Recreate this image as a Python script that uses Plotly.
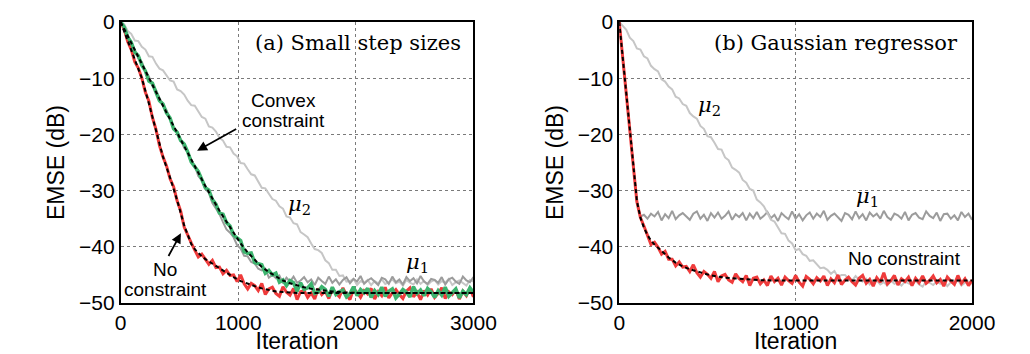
import plotly.graph_objects as go

# ---------------- data ----------------
iter_left = list(range(0, 3001, 30))
iter_right = list(range(0, 2001, 20))

red_left = [0, -1.3, -3.5, -4.9, -7.1, -8.2, -10.0, -12.5, -14.1, -17.0,
            -19.1, -22.0, -24.0, -25.6, -27.9, -29.3, -31.8, -33.6, -36.5, -38.0,
            -39.3, -40.6, -41.8, -41.3, -42.1, -43.1, -42.4, -43.7, -43.6, -44.8,
            -44.2, -45.1, -45.0, -46.2, -45.0, -46.6, -47.5, -46.5, -46.9, -47.8,
            -46.5, -48.5, -47.5, -47.2, -48.3, -48.8, -47.1, -48.1, -48.6, -47.4,
            -49.4, -48.0, -47.8, -49.0, -48.2, -49.3, -47.4, -48.5, -47.9, -49.2,
            -47.6, -48.3, -48.9, -47.3, -48.6, -49.4, -47.5, -48.1, -49.0, -47.8,
            -48.4, -47.4, -49.3, -48.0, -48.7, -47.2, -49.1, -48.2, -47.6, -48.5,
            -49.2, -47.9, -47.3, -48.9, -48.1, -49.4, -47.8, -48.6, -47.5, -49.0,
            -48.3, -47.3, -49.2, -48.0, -48.5, -47.6, -49.3, -47.9, -48.7, -47.4,
            -48.9]

green_left = [0, -0.9, -2.7, -3.6, -5.4, -6.0, -7.7, -8.7, -10.5, -10.9,
              -12.5, -14.0, -14.6, -16.2, -17.1, -19.0, -19.6, -21.1, -21.7, -23.1,
              -24.9, -25.8, -26.6, -28.0, -29.5, -29.9, -31.6, -32.4, -34.0, -34.2,
              -35.7, -36.3, -37.9, -38.4, -38.9, -40.9, -41.2, -41.1, -42.8, -43.0,
              -43.2, -44.7, -44.2, -45.0, -44.7, -46.3, -45.9, -46.9, -46.0, -46.4,
              -47.9, -46.4, -47.6, -47.3, -46.6, -48.3, -48.0, -47.1, -47.6, -48.8,
              -47.2, -48.5, -48.0, -47.7, -48.9, -48.3, -47.1, -48.7, -47.6, -48.2,
              -47.4, -49.0, -47.8, -48.5, -47.2, -48.8, -47.9, -47.5, -49.1, -48.4,
              -47.6, -48.1, -48.9, -47.1, -48.3, -47.7, -48.7, -47.4, -48.0, -49.0,
              -47.8, -48.6, -47.2, -48.8, -48.2, -47.5, -49.1, -47.9, -48.5, -47.3,
              -48.1]

mu1_left = [0, -1.1, -2.3, -3.9, -4.9, -6.5, -7.1, -8.7, -9.7, -11.4,
            -12.1, -13.5, -14.9, -15.7, -17.3, -18.8, -19.4, -20.8, -22.4, -23.2,
            -24.6, -25.6, -27.4, -28.2, -29.7, -30.4, -32.2, -33.2, -34.2, -35.6,
            -36.9, -37.5, -38.3, -39.7, -40.3, -41.6, -41.7, -42.7, -43.0, -43.9,
            -44.2, -43.9, -45.5, -45.0, -45.6, -45.1, -46.5, -45.5, -46.2, -45.3,
            -46.4, -46.0, -45.4, -46.3, -45.8, -46.8, -45.5, -46.1, -46.6, -45.3,
            -46.4, -45.8, -46.7, -45.9, -45.4, -46.5, -45.7, -46.2, -45.2, -46.6,
            -46.0, -45.6, -46.2, -46.8, -45.5, -45.8, -46.6, -45.3, -46.3, -45.8,
            -46.7, -45.4, -46.1, -45.6, -46.5, -45.2, -46.2, -46.6, -45.7, -45.9,
            -46.4, -45.4, -46.7, -45.8, -45.5, -46.2, -46.6, -45.3, -46.0, -46.3,
            -45.4]

mu2_left = [0, -0.4, -1.6, -2.1, -3.3, -3.4, -4.4, -4.9, -6.1, -6.2,
            -7.4, -8.3, -8.6, -9.4, -10.4, -10.6, -12.0, -12.3, -12.9, -14.0,
            -14.8, -14.9, -16.0, -16.9, -17.2, -18.6, -18.8, -19.5, -20.6, -21.1,
            -22.2, -22.3, -23.4, -23.9, -25.1, -25.2, -26.2, -27.1, -27.3, -28.5,
            -29.5, -29.6, -30.5, -31.5, -31.8, -32.8, -33.2, -34.6, -34.8, -35.8,
            -36.0, -37.4, -37.8, -38.3, -39.4, -40.4, -40.6, -41.1, -42.4, -42.9,
            -44.1, -44.1, -45.2, -45.1, -46.2, -46.1, -45.7, -46.8, -46.1, -46.4,
            -45.9, -46.8, -46.1, -46.5, -45.8, -46.6, -46.3, -45.8, -46.5, -46.2,
            -46.9, -45.9, -46.4, -46.7, -45.8, -46.6, -46.1, -46.8, -46.2, -45.9,
            -46.7, -46.1, -46.4, -45.7, -46.8, -46.3, -46.0, -46.5, -46.9, -45.9,
            -46.2]

mean_iter_red_left = [0, 60, 120, 180, 240, 300, 360, 420, 480, 540, 570, 600, 630, 660,
                      720, 780, 840, 900, 960, 1020, 1080, 1140, 1200, 1260, 1320, 1380,
                      1440, 1500, 1700, 2000, 2500, 3000]
mean_red_left = [0, -3.3, -6.7, -10.0, -14.5, -19.2, -24.0, -27.7, -31.7, -36.2, -38.0,
                 -39.5, -40.4, -41.1, -42.2, -43.0, -43.8, -44.7, -45.4, -46.1, -46.6,
                 -47.0, -47.4, -47.7, -47.95, -48.05, -48.15, -48.2, -48.2, -48.2, -48.2,
                 -48.2]

mean_iter_green_left = [0, 120, 240, 360, 480, 600, 720, 840, 960, 1020, 1080, 1140, 1200,
                        1260, 1320, 1380, 1440, 1500, 1560, 1620, 1700, 1800, 1900, 2000,
                        2500, 3000]
mean_green_left = [0, -5.0, -10.1, -14.9, -19.7, -24.5, -29.2, -33.6, -37.5, -39.4, -41.0,
                   -42.4, -43.6, -44.5, -45.3, -46.0, -46.5, -46.9, -47.2, -47.45, -47.7,
                   -47.95, -48.1, -48.2, -48.2, -48.2]

red_right = [0, -6.7, -12.9, -19.6, -25.7, -32.0, -34.8, -36.3, -38.1, -39.6,
             -39.2, -40.1, -41.3, -40.8, -42.2, -42.2, -43.4, -42.7, -43.6, -43.5,
             -44.4, -43.2, -44.6, -45.4, -44.4, -44.9, -45.6, -44.4, -46.2, -45.2,
             -44.9, -45.9, -46.3, -44.8, -45.7, -46.2, -45.1, -46.9, -45.6, -45.4,
             -46.6, -45.9, -46.9, -45.2, -46.2, -45.6, -46.8, -45.4, -46.0, -46.5,
             -45.1, -46.3, -47.0, -45.3, -45.8, -46.6, -45.5, -46.1, -45.2, -46.9,
             -45.7, -46.4, -45.0, -46.7, -45.9, -45.4, -46.2, -46.8, -45.6, -45.1,
             -46.5, -45.8, -47.0, -45.5, -46.3, -44.6, -46.6, -46.0, -45.1, -46.8,
             -45.7, -46.2, -45.4, -46.9, -45.6, -46.4, -45.2, -46.5, -46.0, -45.2,
             -46.4, -45.8, -47.0, -45.4, -46.1, -46.7, -45.1, -46.5, -45.7, -46.9,
             -45.9]

mu1_right = [0, -6.6, -13.0, -19.5, -25.9, -31.9, -34.6, -34.3, -35.0, -34.1,
             -34.6, -33.8, -35.3, -34.2, -34.9, -33.6, -35.1, -34.4, -34.0, -34.7,
             -35.2, -34.1, -33.7, -35.0, -34.3, -35.4, -34.0, -34.8, -33.9, -35.0,
             -34.5, -33.7, -35.2, -34.2, -34.7, -34.0, -35.3, -34.1, -34.9, -33.8,
             -35.0, -34.5, -33.8, -34.9, -34.3, -35.4, -34.0, -34.6, -35.1, -33.7,
             -35.0, -34.2, -35.3, -34.4, -33.9, -35.0, -34.1, -34.7, -33.6, -35.2,
             -34.5, -34.1, -34.8, -35.4, -34.0, -34.3, -35.1, -33.7, -34.9, -34.2,
             -35.3, -33.9, -34.6, -34.1, -35.0, -33.6, -34.7, -35.2, -34.1, -34.4,
             -35.0, -33.8, -35.3, -34.3, -34.0, -34.8, -35.1, -33.7, -34.5, -34.9,
             -33.9, -35.4, -34.2, -34.1, -35.0, -34.4, -35.3, -33.8, -34.7, -34.1,
             -35.2]

mu2_right = [0, -0.7, -1.4, -2.8, -3.4, -4.7, -4.9, -6.1, -6.5, -7.8,
             -8.4, -8.8, -10.2, -10.6, -11.5, -12.0, -13.3, -13.6, -14.6, -14.9,
             -16.2, -16.8, -17.2, -18.5, -19.0, -20.3, -20.5, -21.5, -22.6, -22.7,
             -24.1, -24.6, -25.9, -26.3, -26.8, -28.1, -28.6, -29.7, -30.0, -31.6,
             -32.1, -32.8, -34.0, -35.2, -35.5, -36.5, -37.6, -37.7, -38.9, -39.4,
             -40.6, -40.4, -41.3, -41.6, -42.5, -42.4, -43.2, -43.8, -43.7, -44.1,
             -44.8, -44.3, -45.4, -45.0, -45.0, -45.7, -46.0, -45.2, -45.9, -46.2,
             -45.7, -46.7, -46.1, -46.0, -46.7, -46.3, -46.9, -46.0, -46.6, -46.3,
             -46.9, -46.2, -46.5, -46.8, -46.0, -46.7, -47.1, -46.1, -46.4, -46.8,
             -46.2, -46.6, -46.1, -47.0, -46.3, -46.7, -45.9, -46.9, -46.4, -46.2,
             -46.6]

mean_iter_right = [0, 20, 40, 60, 80, 100, 120, 140, 160, 180, 200, 240, 280, 320, 360,
                   400, 440, 480, 520, 560, 600, 660, 720, 800, 900, 1200, 1600, 2000]
mean_red_right = [0, -6.5, -13.0, -19.5, -26.0, -31.8, -34.8, -36.6, -37.9, -38.9, -39.6,
                  -40.8, -41.9, -42.8, -43.5, -44.0, -44.4, -44.8, -45.1, -45.3, -45.5,
                  -45.65, -45.8, -45.95, -46.0, -46.0, -46.0, -46.0]

x_ticks_left = [0, 1000, 2000, 3000]
x_ticks_right = [0, 1000, 2000]
y_ticks = [0, -10, -20, -30, -40, -50]

for arr in (red_left, green_left, mu1_left, mu2_left):
    assert len(arr) == len(iter_left), len(arr)
for arr in (red_right, mu1_right, mu2_right):
    assert len(arr) == len(iter_right), len(arr)
assert len(mean_iter_red_left) == len(mean_red_left)
assert len(mean_iter_green_left) == len(mean_green_left)
assert len(mean_iter_right) == len(mean_red_right)

# ---------------- styles ----------------
RED = "#ef3b3b"
GREEN = "#3cb46e"
GRAY_DARK = "#9c9c9c"
GRAY_LIGHT = "#c6c6c6"
SANS = "Liberation Sans, Arial, Helvetica, sans-serif"
SERIF = "DejaVu Serif, Liberation Serif, serif"

fig = go.Figure()


def line(x, y, color, width, xa, ya, dash=None):
    fig.add_trace(go.Scatter(x=x, y=y, mode="lines", xaxis=xa, yaxis=ya,
                             line=dict(color=color, width=width, dash=dash),
                             showlegend=False, hoverinfo="skip"))


# left panel
line(iter_left, mu2_left, GRAY_LIGHT, 2, "x", "y")
line(iter_left, mu1_left, GRAY_DARK, 2, "x", "y")
line(iter_left, red_left, RED, 3, "x", "y")
line(iter_left, green_left, GREEN, 3.5, "x", "y")
line(mean_iter_red_left, mean_red_left, "black", 2, "x", "y", dash="4px,3px")
line(mean_iter_green_left, mean_green_left, "black", 2, "x", "y", dash="4px,3px")

# right panel
line(iter_right, mu1_right, GRAY_DARK, 2, "x2", "y2")
line(iter_right, mu2_right, GRAY_LIGHT, 2, "x2", "y2")
line(iter_right, red_right, RED, 3, "x2", "y2")
line(mean_iter_right, mean_red_right, "black", 2, "x2", "y2", dash="4px,3px")

axis_common = dict(showgrid=True, gridcolor="#7a7a7a", griddash="dot", gridwidth=1,
                   showline=True, linecolor="black", linewidth=1.5, mirror=True,
                   zeroline=False, ticks="", tickfont=dict(family=SANS, size=21, color="black"))
title_font = dict(family=SANS, size=23, color="black")

fig.update_layout(
    width=1030, height=354,
    margin=dict(l=0, r=0, t=22, b=51),
    paper_bgcolor="white", plot_bgcolor="white",
    xaxis=dict(domain=[118 / 1030, 481 / 1030], range=[0, 3000], tickvals=x_ticks_left,
               title=dict(text="Iteration", font=title_font, standoff=4),
               anchor="y", **axis_common),
    yaxis=dict(domain=[0, 1], range=[-50, 0], tickvals=y_ticks,
               title=dict(text="EMSE (dB)", font=title_font, standoff=8),
               anchor="x", **axis_common),
    xaxis2=dict(domain=[631 / 1030, 994 / 1030], range=[0, 2000], tickvals=x_ticks_right,
                title=dict(text="Iteration", font=title_font, standoff=4),
                anchor="y2", **axis_common),
    yaxis2=dict(domain=[0, 1], range=[-50, 0], tickvals=y_ticks,
                title=dict(text="EMSE (dB)", font=title_font, standoff=8),
                anchor="x2", **axis_common),
)

ann = []


def text(xr, yr, x, y, s, font, size, xanchor="center", yanchor="middle"):
    ann.append(dict(xref=xr, yref=yr, x=x, y=y, text=s, showarrow=False,
                    xanchor=xanchor, yanchor=yanchor,
                    font=dict(family=font, size=size, color="black")))


def arrow(xr, yr, x, y, ax, ay):
    ann.append(dict(xref=xr, yref=yr, axref=xr, ayref=yr, x=x, y=y, ax=ax, ay=ay,
                    text="", showarrow=True, arrowhead=2, arrowsize=1.1,
                    arrowwidth=1.8, arrowcolor="black"))


# left annotations
text("x", "y", 2909, -3.7, "(a) Small step sizes", SERIF, 21, xanchor="right")
text("x", "y", 1386, -13.9, "Convex", SANS, 19)
text("x", "y", 1386, -17.6, "constraint", SANS, 19)
arrow("x", "y", 650, -22.9, 995, -18.9)
text("x", "y", 380, -44.1, "No", SANS, 19)
text("x", "y", 380, -47.6, "constraint", SANS, 19)
arrow("x", "y", 512, -37.6, 400, -41.9)
text("x", "y", 1518, -32.6, "<i>μ</i><sub>2</sub>", SERIF, 21)
text("x", "y", 2524, -42.9, "<i>μ</i><sub>1</sub>", SERIF, 21)

# right annotations
text("x2", "y2", 1934, -3.7, "(b) Gaussian regressor", SERIF, 21, xanchor="right")
text("x2", "y2", 509, -14.9, "<i>μ</i><sub>2</sub>", SERIF, 21)
text("x2", "y2", 1409, -31.1, "<i>μ</i><sub>1</sub>", SERIF, 21)
text("x2", "y2", 1950, -42.0, "No constraint", SANS, 19, xanchor="right")

fig.update_layout(annotations=ann)

fig.write_html("out.html", config={"displayModeBar": False},
               post_script="document.body.style.margin='0';")
